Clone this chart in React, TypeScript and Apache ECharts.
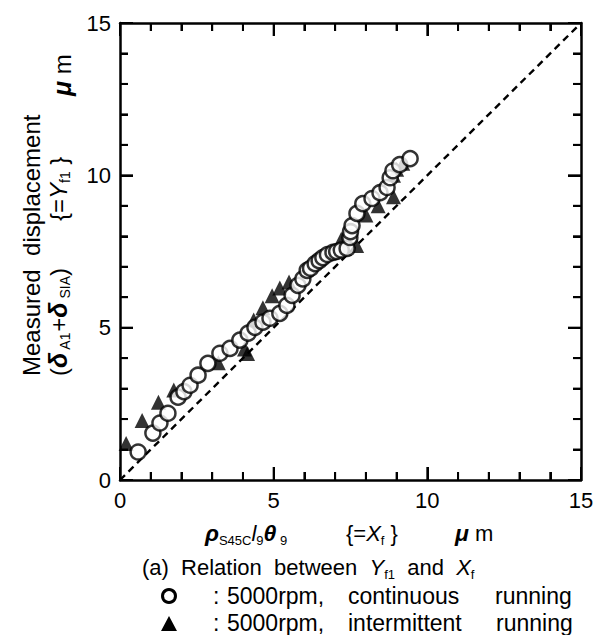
import React, { useEffect, useRef } from "react";
import * as echarts from "echarts";

const majorTicks = [0, 5, 10, 15];
const tickValues = [0, 1, 2, 3, 4, 5, 6, 7, 8, 9, 10, 11, 12, 13, 14, 15];
const refLine = [[0, 0], [15, 15]];

const continuous: number[][] = [
  [0.59, 0.92], [1.07, 1.54], [1.3, 1.87], [1.56, 2.19], [1.89, 2.72], [2.08, 2.9],
  [2.28, 3.11], [2.54, 3.44], [2.86, 3.83], [3.25, 4.16], [3.58, 4.32], [3.9, 4.59],
  [4.17, 4.82], [4.39, 5.01], [4.65, 5.18], [4.88, 5.31], [5.2, 5.47], [5.43, 5.73],
  [5.6, 6.06], [5.79, 6.39], [5.95, 6.6], [6.09, 6.88], [6.2, 6.95], [6.35, 7.1],
  [6.48, 7.2], [6.6, 7.3], [6.75, 7.4], [6.93, 7.47], [7.05, 7.5], [7.2, 7.55],
  [7.39, 7.6], [7.48, 7.96], [7.5, 8.15], [7.55, 8.35], [7.71, 8.75], [7.9, 9.07],
  [8.2, 9.24], [8.46, 9.43], [8.69, 9.6], [8.79, 9.92], [8.88, 10.15], [9.1, 10.35],
  [9.44, 10.55],
];

const intermittent: number[][] = [
  [0.2, 1.2], [0.72, 1.95], [1.25, 2.55], [1.75, 2.95], [3.2, 3.85], [4.05, 4.3],
  [4.15, 4.15], [4.35, 5.25], [4.65, 5.65], [4.95, 6.05], [5.2, 6.3], [5.5, 6.5],
  [7.2, 7.9], [7.3, 7.6], [7.7, 7.7], [8.0, 8.7], [8.4, 9.0], [8.9, 9.3],
  [8.9, 10.0], [9.0, 10.2], [9.2, 10.4],
];

const FONT = "'Liberation Sans', Arial, Helvetica, sans-serif";
const GRID = { left: 120, top: 23, right: 16, bottom: 155 };

function makeRich(fs: number, lh: number) {
  return {
    n: { fontSize: fs, lineHeight: lh, fontFamily: FONT, color: "#000" },
    g: { fontSize: fs + 1, lineHeight: lh, fontFamily: FONT, fontStyle: "italic", fontWeight: "bold", color: "#000" },
    i: { fontSize: fs, lineHeight: lh, fontFamily: FONT, fontStyle: "italic", color: "#000" },
    s: { fontSize: Math.round(fs * 0.6), lineHeight: Math.round(fs * 0.6), fontFamily: FONT, verticalAlign: "bottom", color: "#000" },
    a: { fontSize: fs, lineHeight: lh, fontFamily: FONT, color: "#000", width: 14 },
    b: { fontSize: fs, lineHeight: lh, fontFamily: FONT, color: "#000", width: 121 },
    c: { fontSize: fs, lineHeight: lh, fontFamily: FONT, color: "#000", width: 147 },
    d: { fontSize: fs, lineHeight: lh, fontFamily: FONT, color: "#000", width: 148 },
  };
}

function txt(x: number, y: number, text: string, fs: number, lh: number, extra: any = {}) {
  return {
    type: "text",
    x,
    y,
    silent: true,
    ...extra,
    style: {
      text,
      rich: makeRich(fs, lh),
      fontSize: fs,
      fontFamily: FONT,
      fill: "#000",
      align: "left",
      verticalAlign: "middle",
    },
  };
}

function makeAxis(position: string, showLabel: boolean) {
  return {
    type: "value",
    position,
    min: 0,
    max: 15,
    interval: 5,
    axisLine: { show: true, onZero: false, lineStyle: { color: "#000", width: 2.5 } },
    axisTick: { show: true, inside: true, length: 13, lineStyle: { color: "#000", width: 2 } },
    minorTick: { show: true, splitNumber: 5, length: 8, lineStyle: { color: "#000", width: 2 } },
    splitLine: { show: false },
    axisLabel: {
      show: showLabel,
      fontSize: 22,
      fontFamily: FONT,
      color: "#000",
      margin: 9,
      formatter: (v: number) => (majorTicks.includes(v) ? String(v) : ""),
    },
  };
}

export default function App() {
  const ref = useRef<HTMLDivElement>(null);
  useEffect(() => {
    if (!ref.current) return;
    document.body.style.margin = "0";
    const chart = echarts.init(ref.current, undefined, { renderer: "svg" });
    const ROT = Math.PI / 2;
    chart.setOption({
      animation: false,
      grid: GRID,
      xAxis: [makeAxis("bottom", true), makeAxis("top", false)],
      yAxis: [makeAxis("left", true), makeAxis("right", false)],
      series: [
        {
          type: "line",
          data: refLine,
          showSymbol: false,
          symbol: "none",
          lineStyle: { color: "#000", width: 2.4, type: [7, 5] },
          z: 1,
          silent: true,
        },
        {
          type: "scatter",
          name: "intermittent",
          data: intermittent,
          symbol: "triangle",
          symbolSize: 15,
          itemStyle: { color: "#000" },
          z: 2,
        },
        {
          type: "scatter",
          name: "continuous",
          data: continuous,
          symbol: "circle",
          symbolSize: 15,
          itemStyle: { color: "#fff", borderColor: "#000", borderWidth: 2.5 },
          z: 3,
        },
        {
          type: "custom",
          data: tickValues.map((v) => [v, v]),
          encode: { x: 0, y: 1 },
          silent: true,
          clip: false,
          z: 5,
          renderItem: (_params: any, api: any) => {
            const v = api.value(0);
            const len = majorTicks.includes(v) ? 13 : 8;
            const b = api.coord([v, 0]);
            const t = api.coord([v, 15]);
            const l = api.coord([0, v]);
            const r = api.coord([15, v]);
            const st = { stroke: "#000", lineWidth: 2 };
            return {
              type: "group",
              children: [
                { type: "line", shape: { x1: b[0], y1: b[1], x2: b[0], y2: b[1] - len }, style: st },
                { type: "line", shape: { x1: t[0], y1: t[1], x2: t[0], y2: t[1] + len }, style: st },
                { type: "line", shape: { x1: l[0], y1: l[1], x2: l[0] + len, y2: l[1] }, style: st },
                { type: "line", shape: { x1: r[0], y1: r[1], x2: r[0] - len, y2: r[1] }, style: st },
              ],
            };
          },
        },
      ],
      graphic: [
        txt(31, 376, "{n|Measured  displacement}", 24, 28, { rotation: ROT }),
        txt(58, 376, "{n|(}{g|δ}{s| A1}{n|+}{g|δ}{s| SIA}{n|)}", 24, 28, { rotation: ROT }),
        txt(58, 221, "{n|{=}{i|Y}{s|f1}{n| }}", 24, 28, { rotation: ROT }),
        txt(62, 96, "{g|μ}{n| m}", 24, 28, { rotation: ROT }),
        txt(205, 533, "{g|ρ}{s|S45C}{i|l}{s|9}{g|θ}{s| 9}", 22, 28),
        txt(346, 533, "{n|{=}{i|X}{s|f}{n| }}", 22, 28),
        txt(455, 533, "{g|μ}{n| m}", 22, 28),
        txt(142, 567, "{n|(a)  Relation  between  }{i|Y}{s|f1}{n|  and  }{i|X}{s|f}", 22, 28),
        { type: "circle", shape: { cx: 169, cy: 596, r: 6.5 }, style: { fill: "#fff", stroke: "#000", lineWidth: 3 }, silent: true },
        txt(213, 596, "{a|:}{b|5000rpm,}{c|continuous}{n|running}", 23, 24),
        { type: "polygon", shape: { points: [[169, 616], [161, 631], [177, 631]] }, style: { fill: "#000" }, silent: true },
        txt(213, 623, "{a|:}{b|5000rpm,}{d|intermittent}{n|running}", 23, 24),
      ],
    });
    return () => {
      chart.dispose();
    };
  }, []);
  return <div ref={ref} style={{ width: 597, height: 635, background: "#fff" }} />;
}
